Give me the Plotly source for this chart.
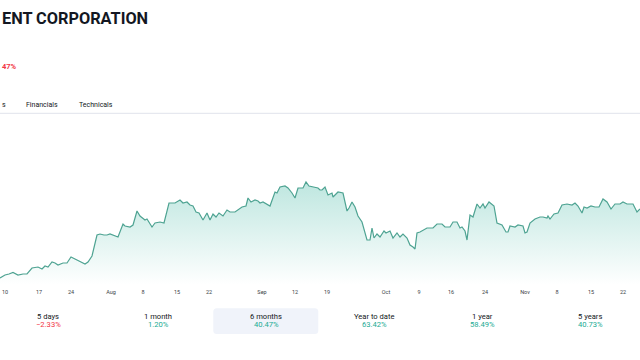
import plotly.graph_objects as go

# ---- data ----
# sample time (chart time units) and price
t = [0, 5, 9, 13, 18, 23, 27, 32, 38, 42, 45, 48, 52, 55, 58, 63, 67, 71, 77, 85,
     88, 92, 97, 100, 104, 107, 110, 113, 115, 118, 123, 125, 130, 133, 137, 140, 145, 147, 152, 155,
     160, 164, 169, 175, 180, 183, 187, 190, 193, 196, 199, 203, 207, 210, 213, 216, 219, 223, 227, 230,
     235, 238, 242, 246, 248, 251, 255, 258, 260, 263, 267, 270, 275, 277, 280, 285, 288, 292, 295, 298,
     303, 306, 309, 313, 318, 320, 322, 325, 328, 332, 333, 336, 338, 343, 347, 349, 352, 355, 358, 362,
     365, 367, 370, 372, 374, 377, 380, 384, 386, 390, 393, 397, 400, 403, 407, 410, 413, 415, 417, 420,
     427, 433, 437, 442, 445, 450, 453, 457, 460, 462, 465, 467, 470, 473, 477, 480, 483, 485, 489, 492,
     494, 497, 502, 506, 508, 510, 515, 518, 523, 525, 527, 530, 535, 540, 543, 547, 548, 550, 554, 558,
     562, 567, 572, 575, 578, 582, 584, 587, 591, 595, 599, 603, 607, 611, 615, 620, 623, 627, 633, 637,
     640]
price = [111, 112.5, 113, 113.75, 112.5, 113, 113, 116, 116.5, 115.5, 117, 116.5, 119, 118.5, 117.5, 118.5, 118.5, 121.5, 120, 118,
         119, 122, 132.5, 133, 132.5, 132.5, 133, 132.5, 132, 131.5, 138, 137, 136.5, 137.5, 144.5, 142, 140, 140.5, 136.5, 138.5,
         139, 138.5, 148.5, 148.5, 150, 148.5, 149, 147.5, 147, 144, 143.5, 140, 143.5, 140, 143, 141.5, 143.5, 142, 145, 144,
         144, 145, 146.5, 147, 151, 149, 150, 149.5, 148.5, 149, 148, 147, 154, 153.5, 156.5, 157, 156, 153.5, 151, 156,
         156, 159, 157, 156.5, 156, 155, 155, 156.5, 152.5, 153.5, 151.5, 153, 154, 153.5, 144.5, 146, 149, 146.5, 142, 139,
         133.5, 130, 130, 136, 131, 133, 131.5, 134.5, 133.5, 134.5, 131, 133.5, 131.5, 133, 131, 127.5, 126.5, 125.5, 133.5, 134,
         136, 136, 138, 138, 136.5, 136.5, 139, 139, 136, 136.5, 134.5, 130, 142.5, 141.5, 148, 146, 148, 146, 149, 147.5,
         147, 138.5, 137.5, 134, 134, 137, 136.5, 137.5, 137, 133.5, 134, 138.5, 140.5, 141.5, 141.5, 141, 142, 140.5, 143, 143.5,
         147.5, 148, 147.5, 148.5, 147, 143.5, 146.5, 146, 147, 146.5, 146.5, 150.5, 149, 145.5, 148, 148, 149, 148, 148, 144,
         145.5]

tick_pos = [5, 39, 71, 111, 143, 177, 209, 262, 295, 327, 386, 419, 451, 485, 525, 557, 591, 623]
tick_text = ["10", "17", "24", "Aug", "8", "15", "22", "Sep", "12", "19", "Oct", "9", "16", "24", "Nov", "8", "15", "22"]

periods = ["5 days", "1 month", "6 months", "Year to date", "1 year", "5 years"]
changes = ["\u22122.33%", "1.20%", "40.47%", "63.42%", "58.49%", "40.73%"]

W, H = 640, 360
GREEN = "#22ab94"
RED = "#f23645"
DARK = "#131722"
FONT = "Roboto"


def px(x):
    return x / W


def py(y):
    return 1 - y / H


def label(text, x, y, size, color, xanchor="center"):
    return dict(text=text, x=px(x), y=py(y), xref="paper", yref="paper",
                xanchor=xanchor, yanchor="middle", showarrow=False,
                font=dict(family=FONT, size=size, color=color))


fig = go.Figure()
fig.add_trace(go.Scatter(
    x=t, y=price, mode="lines",
    line=dict(color="rgb(78,163,146)", width=1.2),
    fill="tozeroy",
    fillgradient=dict(type="vertical", start=107.5, stop=160,
                      colorscale=[[0, "rgba(34,171,148,0.0)"], [1, "rgba(34,171,148,0.30)"]]),
    hoverinfo="skip", showlegend=False,
))

annotations = [
    label("<b>ENT CORPORATION</b>", 0, 18.5, 16.3, DARK, "left"),
    label("<b>47%</b>", 0, 66.5, 7.5, RED, "left"),
    label("s", 0.3, 105, 7, DARK, "left"),
    label("Financials", 41.5, 105, 7, DARK),
    label("Technicals", 95.5, 105, 7, DARK),
]

centers = [48, 158, 266, 374, 482, 590]
for name, ch, cx in zip(periods, changes, centers):
    col = RED if ch.startswith("\u2212") else GREEN
    annotations.append(label(name, cx, 316.5, 7.6, DARK))
    annotations.append(label(ch, cx, 324.2, 7.6, col))

# selected period box (rounded)
x0, x1, y0, y1, r = 213.3, 318.3, 308.3, 334, 3.5
path = (f"M {px(x0 + r)},{py(y0)} L {px(x1 - r)},{py(y0)} Q {px(x1)},{py(y0)} {px(x1)},{py(y0 + r)} "
        f"L {px(x1)},{py(y1 - r)} Q {px(x1)},{py(y1)} {px(x1 - r)},{py(y1)} "
        f"L {px(x0 + r)},{py(y1)} Q {px(x0)},{py(y1)} {px(x0)},{py(y1 - r)} "
        f"L {px(x0)},{py(y0 + r)} Q {px(x0)},{py(y0)} {px(x0 + r)},{py(y0)} Z")
shapes = [
    dict(type="path", xref="paper", yref="paper", path=path, fillcolor="#f0f3fa", line=dict(width=0), layer="below"),
    dict(type="line", xref="paper", yref="paper", x0=0, x1=1, y0=py(113.3), y1=py(113.3),
         line=dict(color="#e0e3eb", width=1)),
]

fig.update_layout(
    width=W, height=H,
    margin=dict(l=0, r=0, t=0, b=0),
    paper_bgcolor="white", plot_bgcolor="white",
    xaxis=dict(range=[0, 640], domain=[0, 1], showgrid=False, zeroline=False, showline=False,
               tickmode="array", tickvals=tick_pos, ticktext=tick_text, ticks="",
               ticklabelstandoff=2,
               tickfont=dict(family=FONT, size=5.5, color="#3c3f47"), fixedrange=True),
    yaxis=dict(range=[107.5, 192.5], domain=[75 / H, 245 / H], visible=False, fixedrange=True),
    annotations=annotations,
    shapes=shapes,
    showlegend=False,
)

fig.write_html("out.html", config={"displayModeBar": False},
               post_script="document.body.style.margin='0';document.body.style.overflow='hidden';")
